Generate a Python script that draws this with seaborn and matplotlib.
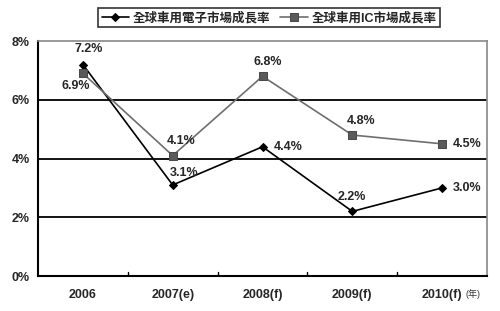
import matplotlib
matplotlib.use("Agg")
import matplotlib.pyplot as plt
import seaborn as sns
import pandas as pd

years = ["2006", "2007(e)", "2008(f)", "2009(f)", "2010(f)"]
elec = [7.2, 3.1, 4.4, 2.2, 3.0]
ic = [6.9, 4.1, 6.8, 4.8, 4.5]
name_elec = "全球車用電子市場成長率"
name_ic = "全球車用IC市場成長率"
yticks = [0, 2, 4, 6, 8]

sns.set_style("white")
FAM = ["Liberation Sans", "Noto Sans CJK TC", "DejaVu Sans"]
plt.rcParams["font.family"] = FAM

fig = plt.figure(figsize=(5, 3.11), dpi=100)
ax = fig.add_axes([0.076, 0.1125, 0.898, 0.7555])

df = pd.DataFrame({"year": years, "elec": elec, "ic": ic})
df["x"] = range(len(years))

sns.lineplot(data=df, x="x", y="elec", ax=ax, color="black", lw=1.2,
             marker="D", markersize=4.5, markeredgecolor="black",
             markerfacecolor="black", label=name_elec, sort=False)
sns.lineplot(data=df, x="x", y="ic", ax=ax, color="#6e6e6e", lw=1.2,
             marker="s", markersize=5.5, markeredgecolor="#4a4a4a",
             markerfacecolor="#5a5a5a", label=name_ic, sort=False)

ax.set_xlim(-0.5, len(years) - 0.5)
ax.set_ylim(0, 8)
ax.set_yticks(yticks)
ax.set_yticklabels([f"{v}%" for v in yticks], fontsize=9, fontweight="bold")
ax.set_xticks(range(len(years)))
ax.set_xticklabels(years, fontsize=9, fontweight="bold")
ax.tick_params(axis="x", length=0, pad=9)
ax.tick_params(axis="y", length=0, pad=6)
for b in [0.5, 1.5, 2.5, 3.5]:
    ax.plot([b, b], [0, 0.12], color="black", lw=1)
for v in [2, 4, 6]:
    ax.axhline(v, color="black", lw=1.3, zorder=0)
ax.set_xlabel("")
ax.set_ylabel("")
for s in ["left", "bottom"]:
    ax.spines[s].set_color("black")
    ax.spines[s].set_linewidth(1.5)
for s in ["top", "right"]:
    ax.spines[s].set_color("#888888")
    ax.spines[s].set_linewidth(1.2)

lab_kw = dict(fontsize=9, fontweight="bold", textcoords="offset points")
offs_e = [(4, 7, "center", "bottom"), (8, 4, "center", "bottom"),
          (8, 0, "left", "center"), (0, 6, "center", "bottom"),
          (8, 0, "left", "center")]
for i, (dx, dy, ha, va) in enumerate(offs_e):
    ax.annotate(f"{elec[i]:.1f}%", (i, elec[i]), xytext=(dx, dy), ha=ha, va=va, **lab_kw)
offs_i = [(-5, -5, "center", "top"), (6, 6, "center", "bottom"),
          (4, 6, "center", "bottom"), (6, 6, "center", "bottom"),
          (8, 0, "left", "center")]
for i, (dx, dy, ha, va) in enumerate(offs_i):
    ax.annotate(f"{ic[i]:.1f}%", (i, ic[i]), xytext=(dx, dy), ha=ha, va=va, **lab_kw)

ax.text(0.953, -0.078, "(年)", transform=ax.transAxes, fontsize=6.5,
        ha="left", va="center", color="#333333")

h, l = ax.get_legend_handles_labels()
ax.get_legend().remove()
leg = fig.legend(h, l, loc="center", bbox_to_anchor=(0.538, 0.943), ncol=2,
                 frameon=True, fancybox=False, edgecolor="black",
                 prop={"size": 9, "weight": "bold", "family": FAM},
                 handlelength=2.2, columnspacing=0.8, handletextpad=0.3,
                 borderpad=0.25)
leg.get_frame().set_linewidth(1.2)

fig.savefig("out.png", dpi=100)
